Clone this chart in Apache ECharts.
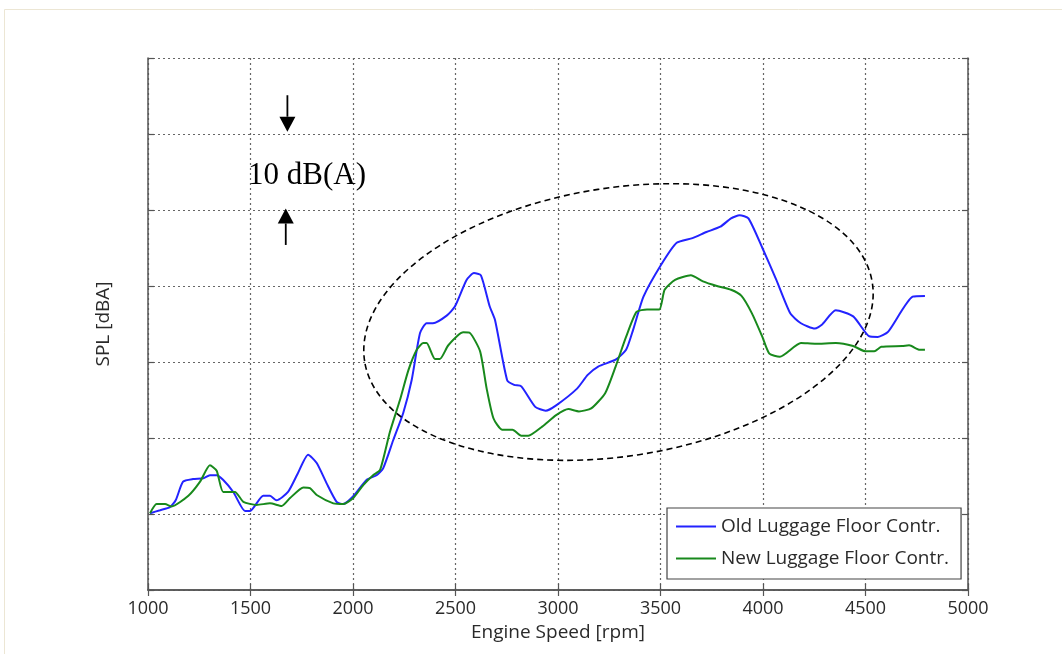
<!DOCTYPE html>
<html><head><meta charset="utf-8">
<script src="https://cdn.jsdelivr.net/npm/echarts@6/dist/echarts.min.js"></script>
<style>html,body{margin:0;padding:0;background:#fff}#c{width:1062px;height:654px}</style>
</head><body><div id="c"></div>
<script>
// ---- data ----
const xMin = 1000, xMax = 5000, xStep = 500;       // tick labels 1000..5000
const yMin = 0, yMax = 70, yStep = 10;              // 10 dB(A) per grid step (no labels shown)
const seriesNames = ['Old Luggage Floor Contr.', 'New Luggage Floor Contr.'];

const oldRpm = [1010,1059,1107,1135,1171,1220,1270,1302,1335,1366,1416,1473,1498,1562,1595,1627,1683,1730,1781,1823,1872,1920,1951,2000,2067,2115,2147,2196,2245,2286,2327,2359,2390,2457,2497,2554,2590,2624,2667,2693,2752,2786,2821,2889,2940,2991,3093,3145,3196,3281,3332,3366,3417,3503,3579,3656,3724,3792,3844,3886,3929,3997,4065,4133,4185,4253,4287,4355,4440,4517,4560,4611,4730,4790];
const oldSpl = [10.1,10.5,10.9,11.8,14.25,14.6,14.7,15.1,15.1,14.5,12.9,10.4,10.4,12.4,12.4,11.8,12.9,15.3,17.8,16.7,14.0,11.6,11.3,12.3,14.5,15.1,16.0,19.7,23.3,27.6,33.8,35.1,35.1,36.1,37.3,40.8,41.7,41.4,37.3,35.5,27.6,27.0,26.8,24.1,23.6,24.3,26.5,28.3,29.4,30.3,31.6,34.2,38.6,42.8,45.7,46.3,47.1,47.8,48.9,49.3,48.9,45.0,40.8,36.4,35.1,34.4,34.9,36.8,36.0,33.4,33.3,34.0,38.6,38.7];

const newRpm = [1010,1042,1083,1115,1197,1254,1302,1335,1367,1424,1465,1530,1595,1652,1693,1758,1790,1823,1904,1953,2001,2050,2098,2132,2180,2229,2270,2311,2343,2359,2400,2424,2465,2538,2571,2620,2652,2685,2727,2778,2821,2855,2923,2991,3051,3102,3162,3230,3281,3332,3383,3434,3494,3520,3571,3648,3707,3775,3844,3895,3946,3997,4031,4082,4185,4253,4355,4440,4500,4543,4577,4679,4713,4764,4790];
const newSpl = [10.1,11.3,11.3,11.0,12.4,14.25,16.4,15.7,12.9,12.9,11.6,11.2,11.4,11.05,12.1,13.5,13.4,12.5,11.4,11.3,12.1,13.8,15.1,15.8,20.8,25.0,28.9,31.6,32.5,32.5,30.4,30.4,32.2,33.9,33.8,31.4,26.5,22.6,21.1,21.1,20.3,20.3,21.5,23.0,23.8,23.5,23.9,25.9,29.4,33.3,36.6,36.9,36.9,39.5,40.8,41.4,40.6,40.0,39.5,38.7,36.4,33.3,31.1,30.7,32.5,32.4,32.5,32.1,31.4,31.4,32.0,32.1,32.2,31.6,31.6];

// annotation (in data units)
const annoText = '10 dB(A)';
const annoAt = [1776, 54.5];
const arrowDown = {x: 1680, from: 65.1, to: 60.3};
const arrowUp = {x: 1672, from: 45.4, to: 50.2};
const ellipseC = [3295, 35.26], ellipseR = [1253, 17.66], ellipseRot = 0.153;

const chart = echarts.init(document.getElementById('c'));
const axisLine = {show: true, lineStyle: {color: '#555', width: 1.5}};
const tick = {show: true, inside: true, length: 6, lineStyle: {color: '#555', width: 1.2}};
const grid = {show: true, lineStyle: {color: '#666', width: 1.2, type: [2, 3]}};
const font = '"Open Sans", "DejaVu Sans", sans-serif';

chart.setOption({
  backgroundColor: '#fff',
  animation: false,
  grid: {left: 148, right: 94, top: 58, bottom: 64},
  xAxis: [
    {type: 'value', min: xMin, max: xMax, interval: xStep, position: 'bottom',
     axisLine, axisTick: tick, splitLine: grid,
     axisLabel: {color: '#2a2a2a', fontSize: 18, fontFamily: font, margin: 10, formatter: v => String(v)},
     name: 'Engine Speed [rpm]', nameLocation: 'middle', nameGap: 33,
     nameTextStyle: {color: '#2a2a2a', fontSize: 19, fontFamily: font}},
    {type: 'value', min: xMin, max: xMax, interval: xStep, position: 'top',
     axisLine, axisTick: tick, splitLine: {show: false}, axisLabel: {show: false}}
  ],
  yAxis: [
    {type: 'value', min: yMin, max: yMax, interval: yStep, position: 'left',
     axisLine, axisTick: tick, splitLine: grid, axisLabel: {show: false},
     name: 'SPL [dBA]', nameLocation: 'middle', nameGap: 35,
     nameTextStyle: {color: '#2a2a2a', fontSize: 19, fontFamily: font}},
    {type: 'value', min: yMin, max: yMax, interval: yStep, position: 'right',
     axisLine, axisTick: tick, splitLine: {show: false}, axisLabel: {show: false}}
  ],
  legend: {
    orient: 'vertical', left: 667, top: 508,
    data: seriesNames,
    icon: 'rect', itemWidth: 40, itemHeight: 2, itemGap: 13,
    padding: [9, 12, 11, 9],
    backgroundColor: '#fff', borderColor: '#444', borderWidth: 1.2, borderRadius: 0,
    textStyle: {color: '#2a2a2a', fontSize: 19, fontFamily: font},
    z: 10
  },
  series: [
    {name: seriesNames[0], type: 'line', showSymbol: false, smooth: 0.2,
     data: oldRpm.map((r, i) => [r, oldSpl[i]]),
     itemStyle: {color: '#2323ff'}, lineStyle: {color: '#2323ff', width: 2}},
    {name: seriesNames[1], type: 'line', showSymbol: false, smooth: 0.2,
     data: newRpm.map((r, i) => [r, newSpl[i]]),
     itemStyle: {color: '#18891c'}, lineStyle: {color: '#18891c', width: 2}}
  ]
});

const P = v => chart.convertToPixel({xAxisIndex: 0, yAxisIndex: 0}, v);
function arrow(a) {
  const s = P([a.x, a.from]), e = P([a.x, a.to]);
  const dir = e[1] > s[1] ? 1 : -1;
  const base = e[1] - dir * 15;
  return [
    {type: 'line', shape: {x1: s[0], y1: s[1], x2: e[0], y2: base}, style: {stroke: '#000', lineWidth: 1.8}, z: 20},
    {type: 'polygon', shape: {points: [[e[0], e[1]], [e[0] - 8, base], [e[0] + 8, base]]}, style: {fill: '#000'}, z: 20}
  ];
}
const c = P(ellipseC);
const rx = P([ellipseC[0] + ellipseR[0], ellipseC[1]])[0] - c[0];
const ry = c[1] - P([ellipseC[0], ellipseC[1] + ellipseR[1]])[1];
const t = P(annoAt);
chart.setOption({
  graphic: [
    {type: 'rect', shape: {x: 4.5, y: 9.5, width: 1070, height: 660}, style: {fill: null, stroke: '#ece6d4', lineWidth: 1}, silent: true},
    {type: 'ellipse', x: c[0], y: c[1], rotation: ellipseRot, shape: {cx: 0, cy: 0, rx: rx, ry: ry},
     style: {fill: null, stroke: '#000', lineWidth: 1.6, lineDash: [6, 4]}, z: 15},
    ...arrow(arrowDown), ...arrow(arrowUp),
    {type: 'text', x: t[0], y: t[1], z: 20,
     style: {text: annoText, font: '31px "Liberation Serif", "Times New Roman", serif', fill: '#000', align: 'center', verticalAlign: 'middle'}}
  ]
});
</script></body></html>
